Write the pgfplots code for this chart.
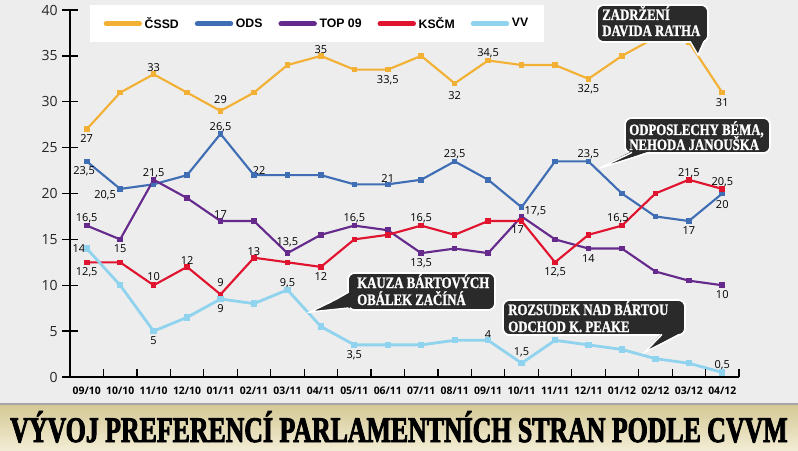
\documentclass[border=0pt]{standalone}
\usepackage{pgfplots}
\pgfplotsset{compat=1.18}
\usepackage{fontspec}
\setmainfont{Open Sans}
\newfontfamily\legfont{Liberation Sans}
\newfontfamily\callfont[FakeStretch=0.8,FakeBold=1.2]{Liberation Serif}
\newfontfamily\titlefont[FakeStretch=0.75,FakeBold=2.5]{Liberation Serif}
\definecolor{bg}{HTML}{EDEDED}
\definecolor{cssd}{HTML}{F2B035}
\definecolor{ods}{HTML}{3F6EB4}
\definecolor{top}{HTML}{652A8C}
\definecolor{kscm}{HTML}{E0142F}
\definecolor{vv}{HTML}{8FD3EE}
\definecolor{cbox}{HTML}{2A2A2A}
\definecolor{bartop}{RGB}{212,200,148}
\definecolor{barbot}{RGB}{242,236,212}
\tikzset{
  lab/.style={font=\fontsize{8.25}{9}\selectfont, inner sep=0pt, text=black},
  la/.style={lab, anchor=south, yshift=1.5pt},
  lb/.style={lab, anchor=north, yshift=-4pt},
  ctext/.style={anchor=base west, inner sep=0pt, text=white, font=\callfont\bfseries\fontsize{12}{13}\selectfont},
  cb/.style={fill=cbox, draw=white, line width=1.3pt, rounded corners=5pt},
}
\newcommand\titletext{\resizebox{583pt}{\height}{\titlefont\bfseries\fontsize{27}{29}\selectfont VÝVOJ PREFERENCÍ PARLAMENTNÍCH STRAN PODLE CVVM}}
\begin{document}
\begin{tikzpicture}[x=0.75pt,y=0.75pt]
\path[use as bounding box] (0,0) rectangle (798,450);
\fill[bg] (0,0) rectangle (798,450);
% title bar
\shade[top color=bartop, bottom color=barbot] (0,0) rectangle (798,46);
\draw[black!35, line width=0.8pt] (0,46) -- (798,46);
\node[anchor=base, inner sep=0pt, text=black] at (399,8) {\titletext};

\begin{axis}[
  at={(52.5pt,54.75pt)}, anchor=south west,
  scale only axis, width=501.75pt, height=275.25pt,
  xmin=-0.5, xmax=19.5, ymin=0, ymax=40,
  axis x line*=bottom, axis y line*=left,
  axis line style={-, line width=1.1pt, black},
  tick style={draw=none},
  xtick={0,...,19},
  xticklabels={09/10,10/10,11/10,12/10,01/11,02/11,03/11,04/11,05/11,06/11,07/11,08/11,09/11,10/11,11/11,12/11,01/12,02/12,03/12,04/12},
  ytick={0,5,...,40},
  /pgf/number format/assume math mode=true,
  yticklabel style={inner sep=0pt, anchor=east, xshift=-9pt, font=\fontsize{10.5}{12}\selectfont, text=black!85},
  xticklabel style={inner sep=0pt, anchor=north, yshift=-7pt, font=\bfseries\fontsize{7.8}{9}\selectfont},
  clip=false,
  legend columns=5,
  legend style={at={(rel axis cs:0.03,1.0136)}, anchor=north west, fill=white, draw=none,
    font=\legfont\bfseries\fontsize{9.2}{10}\selectfont, inner xsep=10pt, inner ysep=7pt,
    /tikz/every even column/.append style={column sep=10pt}},
  legend image code/.code={\draw[#1, line width=3.8pt, line cap=round] (0pt,0pt) -- (25pt,0pt);},
]
\addplot[cssd, line width=1.6pt, mark=square*, mark size=1.3pt] coordinates {
(0,27)(1,31)(2,33)(3,31)(4,29)(5,31)(6,34)(7,35)(8,33.5)(9,33.5)(10,35)(11,32)(12,34.5)(13,34)(14,34)(15,32.5)(16,35)(17,37)(18,36.5)(19,31)};
\addplot[ods, line width=1.6pt, mark=square*, mark size=1.3pt] coordinates {
(0,23.5)(1,20.5)(2,21)(3,22)(4,26.5)(5,22)(6,22)(7,22)(8,21)(9,21)(10,21.5)(11,23.5)(12,21.5)(13,18.5)(14,23.5)(15,23.5)(16,20)(17,17.5)(18,17)(19,20)};
\addplot[top, line width=1.6pt, mark=square*, mark size=1.3pt] coordinates {
(0,16.5)(1,15)(2,21.5)(3,19.5)(4,17)(5,17)(6,13.5)(7,15.5)(8,16.5)(9,16)(10,13.5)(11,14)(12,13.5)(13,17.5)(14,15)(15,14)(16,14)(17,11.5)(18,10.5)(19,10)};
\addplot[kscm, line width=1.6pt, mark=square*, mark size=1.3pt] coordinates {
(0,12.5)(1,12.5)(2,10)(3,12)(4,9)(5,13)(6,12.5)(7,12)(8,15)(9,15.5)(10,16.5)(11,15.5)(12,17)(13,17)(14,12.5)(15,15.5)(16,16.5)(17,20)(18,21.5)(19,20.5)};
\addplot[vv, line width=2.1pt, mark=square*, mark size=1.3pt] coordinates {
(0,14)(1,10)(2,5)(3,6.5)(4,8.5)(5,8)(6,9.5)(7,5.5)(8,3.5)(9,3.5)(10,3.5)(11,4)(12,4)(13,1.5)(14,4)(15,3.5)(16,3)(17,2)(18,1.5)(19,0.5)};
\legend{ČSSD,ODS,TOP 09,KSČM,VV}
% axis ticks
\pgfplotsinvokeforeach{0,5,...,40}{\draw[line width=1.1pt] ([xshift=-6pt]axis cs:-0.5,#1) -- ([xshift=6pt]axis cs:-0.5,#1);}
\pgfplotsinvokeforeach{0.5,1.5,...,19.5}{\draw[line width=0.9pt] (axis cs:#1,0) -- ([yshift=6pt]axis cs:#1,0);}
% CSSD labels
\node[lb] at (axis cs:0,27) {27};
\node[la] at (axis cs:2,33) {33};
\node[la,yshift=3.5pt] at (axis cs:4,29) {29};
\node[la] at (axis cs:7,35) {35};
\node[lb] at (axis cs:9,33.5) {33,5};
\node[lb,yshift=-2pt] at (axis cs:11,32) {32};
\node[la] at (axis cs:12,34.5) {34,5};
\node[lb] at (axis cs:15,32.5) {32,5};
\node[lb] at (axis cs:19,31) {31};
% ODS labels
\node[lb,xshift=-2pt] at (axis cs:0,23.5) {23,5};
\node[lab,anchor=north east,xshift=-3pt,yshift=-0.75pt] at (axis cs:1,20.5) {20,5};
\node[la] at (axis cs:4,26.5) {26,5};
\node[lab,anchor=south west,xshift=-1pt,yshift=0.5pt] at (axis cs:5,22) {22};
\node[la] at (axis cs:9,21) {21};
\node[la] at (axis cs:11,23.5) {23,5};
\node[la] at (axis cs:15,23.5) {23,5};
\node[lb] at (axis cs:18,17) {17};
\node[lb,yshift=-1pt] at (axis cs:19,20) {20};
% TOP 09 labels
\node[la] at (axis cs:0,16.5) {16,5};
\node[lb] at (axis cs:1,15) {15};
\node[la] at (axis cs:2,21.5) {21,5};
\node[la] at (axis cs:4,17) {17};
\node[la,yshift=3pt] at (axis cs:6,13.5) {13,5};
\node[la] at (axis cs:8,16.5) {16,5};
\node[lb] at (axis cs:10,13.5) {13,5};
\node[lab,anchor=south west,xshift=2pt] at (axis cs:13,17.5) {17,5};
\node[lb] at (axis cs:15,14) {14};
\node[lb] at (axis cs:19,10) {10};
% KSCM labels
\node[lb] at (axis cs:0,12.5) {12,5};
\node[la,yshift=2pt] at (axis cs:2,10) {10};
\node[la] at (axis cs:3,12) {12};
\node[la,yshift=4pt] at (axis cs:4,9) {9};
\node[la] at (axis cs:5,13) {13};
\node[lb] at (axis cs:7,12) {12};
\node[la] at (axis cs:10,16.5) {16,5};
\node[lab,anchor=north,xshift=-3pt,yshift=-3.5pt] at (axis cs:13,17) {17};
\node[lb] at (axis cs:14,12.5) {12,5};
\node[la,xshift=-3pt] at (axis cs:16,16.5) {16,5};
\node[la] at (axis cs:18,21.5) {21,5};
\node[la] at (axis cs:19,20.5) {20,5};
% VV labels
\node[lab,anchor=east,xshift=-1pt] at (axis cs:0,14) {14};
\node[lb] at (axis cs:2,5) {5};
\node[lb] at (axis cs:4,8.5) {9};
\node[la] at (axis cs:6,9.5) {9,5};
\node[lb] at (axis cs:8,3.5) {3,5};
\node[la] at (axis cs:12,4) {4};
\node[la,yshift=3pt] at (axis cs:13,1.5) {1,5};
\node[la] at (axis cs:19,0.5) {0,5};
\end{axis}

% callout 1
\draw[cb] (597,445) rectangle (708,408);
\fill[cbox] (690,410) -- (704,410) -- (698,395) -- cycle;
\draw[white, line width=1.1pt] (690,408.6) -- (698,395) -- (704,408.6);
\node[ctext] at (602,430) {ZADRŽENÍ};
\node[ctext] at (602,414) {DAVIDA RATHA};
% callout 2
\draw[cb] (625,332) rectangle (770,297);
\fill[cbox] (632,299) -- (650,299) -- (600,282) -- cycle;
\draw[white, line width=1.1pt] (632,297.6) -- (600,282) -- (650,297.6);
\node[ctext] at (629,315) {ODPOSLECHY BÉMA,};
\node[ctext] at (629,300) {NEHODA JANOUŠKA};
% callout 3
\draw[cb] (348,177) rectangle (495,140);
\fill[cbox] (350,158) -- (350,142) -- (310,138) -- cycle;
\draw[white, line width=1.1pt] (348.6,158) .. controls (335,150) .. (310,138) -- (348.6,142);
\node[ctext] at (357,162) {KAUZA BÁRTOVÝCH};
\node[ctext] at (357,145) {OBÁLEK ZAČÍNÁ};
% callout 4
\draw[cb] (503,150) rectangle (685,115);
\fill[cbox] (662,117) -- (680,117) -- (645,98) -- cycle;
\draw[white, line width=1.1pt] (662,115.6) -- (645,98) -- (680,115.6);
\node[ctext] at (508,135) {ROZSUDEK NAD BÁRTOU};
\node[ctext] at (508,118) {ODCHOD K. PEAKE};
\end{tikzpicture}
\end{document}
